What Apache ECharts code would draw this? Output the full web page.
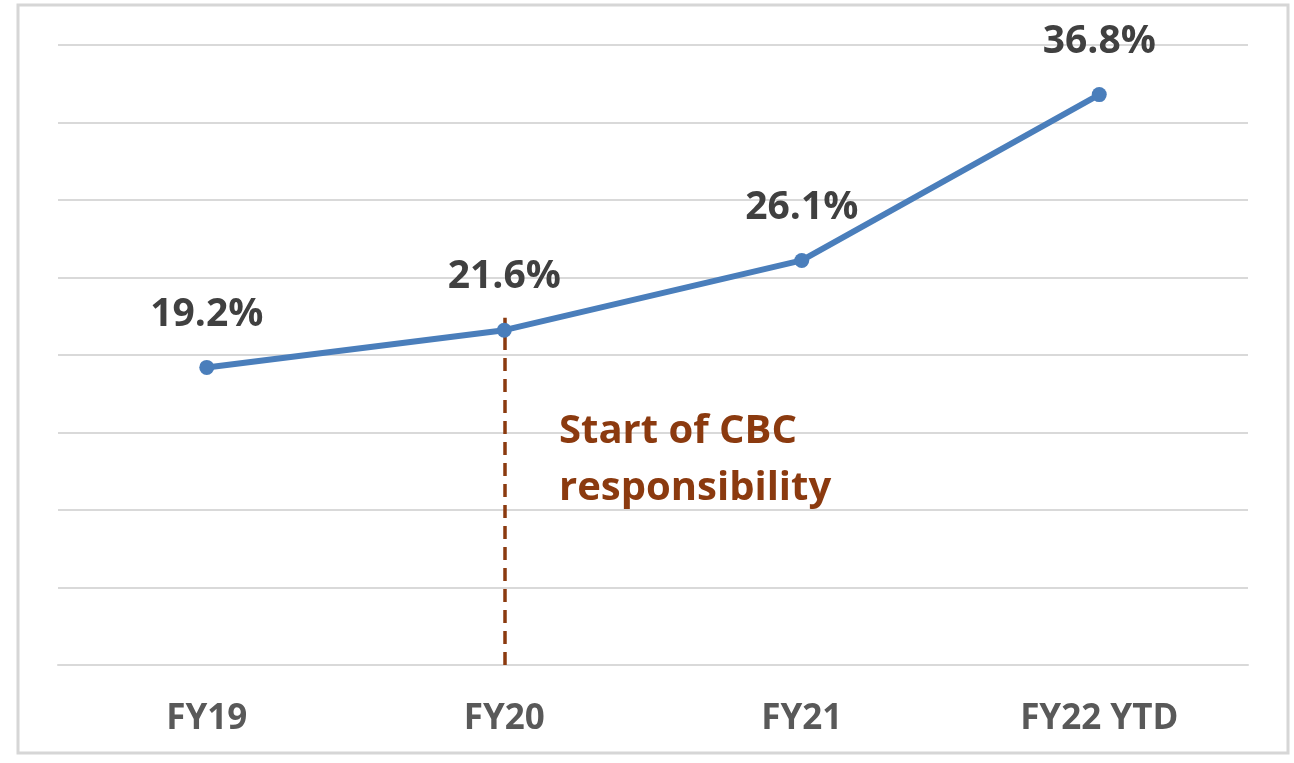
<!DOCTYPE html>
<html>
<head>
<meta charset="utf-8">
<script src="https://cdn.jsdelivr.net/npm/echarts@6/dist/echarts.min.js"></script>
<style>
  html, body { margin: 0; padding: 0; background: #fff; }
  #chart { width: 1294px; height: 763px; }
</style>
</head>
<body>
<div id="chart"></div>
<script>
// data
var years = ["FY19", "FY20", "FY21", "FY22 YTD"];
var shareValues = [19.2, 21.6, 26.1, 36.8];
// vertical marker: category and the value where the dashed line stops
var markerYear = "FY20";
var markerTop = [0, 22.4];
var markerText = ["Start of CBC", "responsibility"];

var chart = echarts.init(document.getElementById("chart"));

chart.setOption({
  animation: false,
  backgroundColor: "#fff",
  grid: {
    left: 58,
    right: 46,
    top: 45,
    bottom: 98
  },
  xAxis: {
    type: "category",
    data: years,
    boundaryGap: true,
    axisLine: { lineStyle: { color: "#d9d9d9", width: 2 } },
    axisTick: { show: false },
    axisLabel: {
      color: "#595959",
      fontFamily: "Open Sans",
      fontWeight: "bold",
      fontSize: 35,
      margin: 37
    }
  },
  yAxis: {
    type: "value",
    min: 0,
    max: 40,
    interval: 5,
    axisLabel: { show: false },
    axisLine: { show: false },
    axisTick: { show: false },
    splitLine: { lineStyle: { color: "#d9d9d9", width: 2 } }
  },
  graphic: [
    {
      type: "rect",
      shape: { x: 18, y: 5, width: 1270, height: 748 },
      style: { fill: "none", stroke: "#d6d6d6", lineWidth: 3 },
      z: 0
    },
    {
      type: "text",
      left: 559,
      top: 403,
      style: {
        text: markerText.join("\n"),
        fill: "#8b3a0f",
        font: "bold 40px 'Open Sans'",
        lineHeight: 57
      },
      z: 10
    }
  ],
  series: [
    {
      type: "line",
      data: shareValues,
      symbol: "circle",
      symbolSize: 15,
      lineStyle: { color: "#4a7ebb", width: 6 },
      itemStyle: { color: "#4a7ebb" },
      label: {
        show: true,
        position: "top",
        distance: 26,
        formatter: "{c}%",
        color: "#404040",
        fontFamily: "Open Sans",
        fontWeight: "bold",
        fontSize: 39
      },
      markLine: {
        silent: true,
        symbol: "none",
        label: { show: false },
        lineStyle: { color: "#8b3a0f", type: [13, 8], width: 3.5, opacity: 1 },
        data: [
          [
            { coord: [markerYear, markerTop[0]] },
            { coord: [markerYear, markerTop[1]] }
          ]
        ],
        z: 1
      },
      z: 5
    }
  ]
});
</script>
</body>
</html>
